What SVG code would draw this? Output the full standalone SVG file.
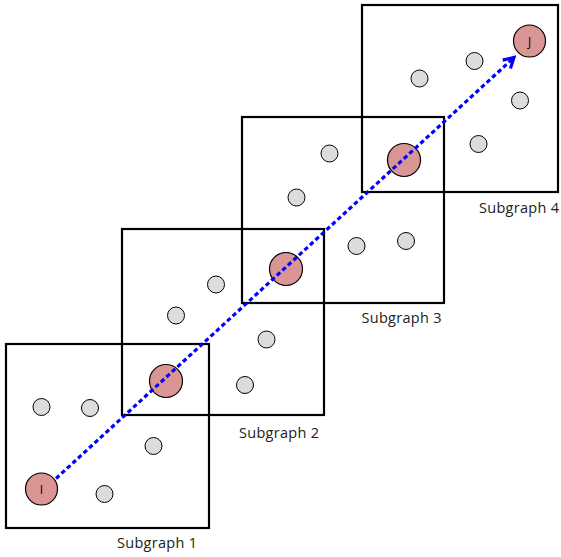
<svg xmlns="http://www.w3.org/2000/svg" width="561" height="557" viewBox="0 0 561 557">
  <style>
    .box { fill: none; stroke: #000; stroke-width: 2.2; }
    .n { fill: #dcdcdc; stroke: #000; stroke-width: 1; }
    .key { fill: #d99694; stroke: #000; stroke-width: 1.2; }
    .lbl { font-family: "Open Sans", "Liberation Sans", sans-serif; font-size: 14.5px; fill: #222; }
    .nid { font-family: "Open Sans", "Liberation Sans", sans-serif; font-size: 12px; fill: #000; text-anchor: middle; }
    .path { fill: none; stroke: #0000ff; stroke-width: 3.2; stroke-dasharray: 4.5 3; }
  </style>
  <defs>
    <marker id="arrow" viewBox="0 0 10 10" refX="8" refY="5" markerWidth="4.5" markerHeight="4.5" orient="auto" markerUnits="strokeWidth">
      <path d="M1,1 L8,5 L1,9" fill="none" stroke="#0000ff" stroke-width="2.2"/>
    </marker>
  </defs>

  <!-- subgraph frames with their inner nodes -->
  <g id="subgraph1">
    <rect class="box" x="6" y="344" width="203" height="184"/>
    <text class="lbl" x="117" y="548" textLength="80">Subgraph 1</text>
    <circle class="n" cx="41.5" cy="407" r="8.5"/>
    <circle class="n" cx="90" cy="408" r="8.5"/>
    <circle class="n" cx="153.5" cy="446" r="8.5"/>
    <circle class="n" cx="104.5" cy="494" r="8.5"/>
  </g>
  <g id="subgraph2">
    <rect class="box" x="122" y="229" width="202" height="186"/>
    <text class="lbl" x="239" y="438" textLength="80">Subgraph 2</text>
    <circle class="n" cx="216" cy="284.5" r="8.5"/>
    <circle class="n" cx="176" cy="315.5" r="8.5"/>
    <circle class="n" cx="266.5" cy="339.5" r="8.5"/>
    <circle class="n" cx="245" cy="385" r="8.5"/>
  </g>
  <g id="subgraph3">
    <rect class="box" x="242" y="117" width="202" height="186"/>
    <text class="lbl" x="361.5" y="323" textLength="80">Subgraph 3</text>
    <circle class="n" cx="329.5" cy="153.5" r="8.5"/>
    <circle class="n" cx="296.5" cy="197.5" r="8.5"/>
    <circle class="n" cx="356.5" cy="246" r="8.5"/>
    <circle class="n" cx="406" cy="241" r="8.5"/>
  </g>
  <g id="subgraph4">
    <rect class="box" x="362" y="5" width="196" height="187"/>
    <text class="lbl" x="479" y="213" textLength="80">Subgraph 4</text>
    <circle class="n" cx="419.5" cy="78.5" r="8.5"/>
    <circle class="n" cx="474.5" cy="61" r="8.5"/>
    <circle class="n" cx="520" cy="100.5" r="8.5"/>
    <circle class="n" cx="478.5" cy="144" r="8.5"/>
  </g>

  <!-- shared nodes along the route -->
  <g id="nodeI">
    <circle class="key" cx="41.5" cy="489" r="16"/>
    <text class="nid" x="41.5" y="493.5">I</text>
  </g>
  <g id="nodeA">
    <circle class="key" cx="166" cy="381" r="16.5"/>
  </g>
  <g id="nodeB">
    <circle class="key" cx="286" cy="269" r="16.5"/>
  </g>
  <g id="nodeC">
    <circle class="key" cx="404" cy="160" r="16.5"/>
  </g>
  <g id="nodeJ">
    <circle class="key" cx="529.5" cy="41" r="16"/>
    <text class="nid" x="529.5" y="45.5">J</text>
  </g>

  <!-- route from I to J -->
  <g id="connectors">
    <line class="path" x1="56" y1="478.5" x2="514" y2="57.5" marker-end="url(#arrow)"/>
  </g>
</svg>
